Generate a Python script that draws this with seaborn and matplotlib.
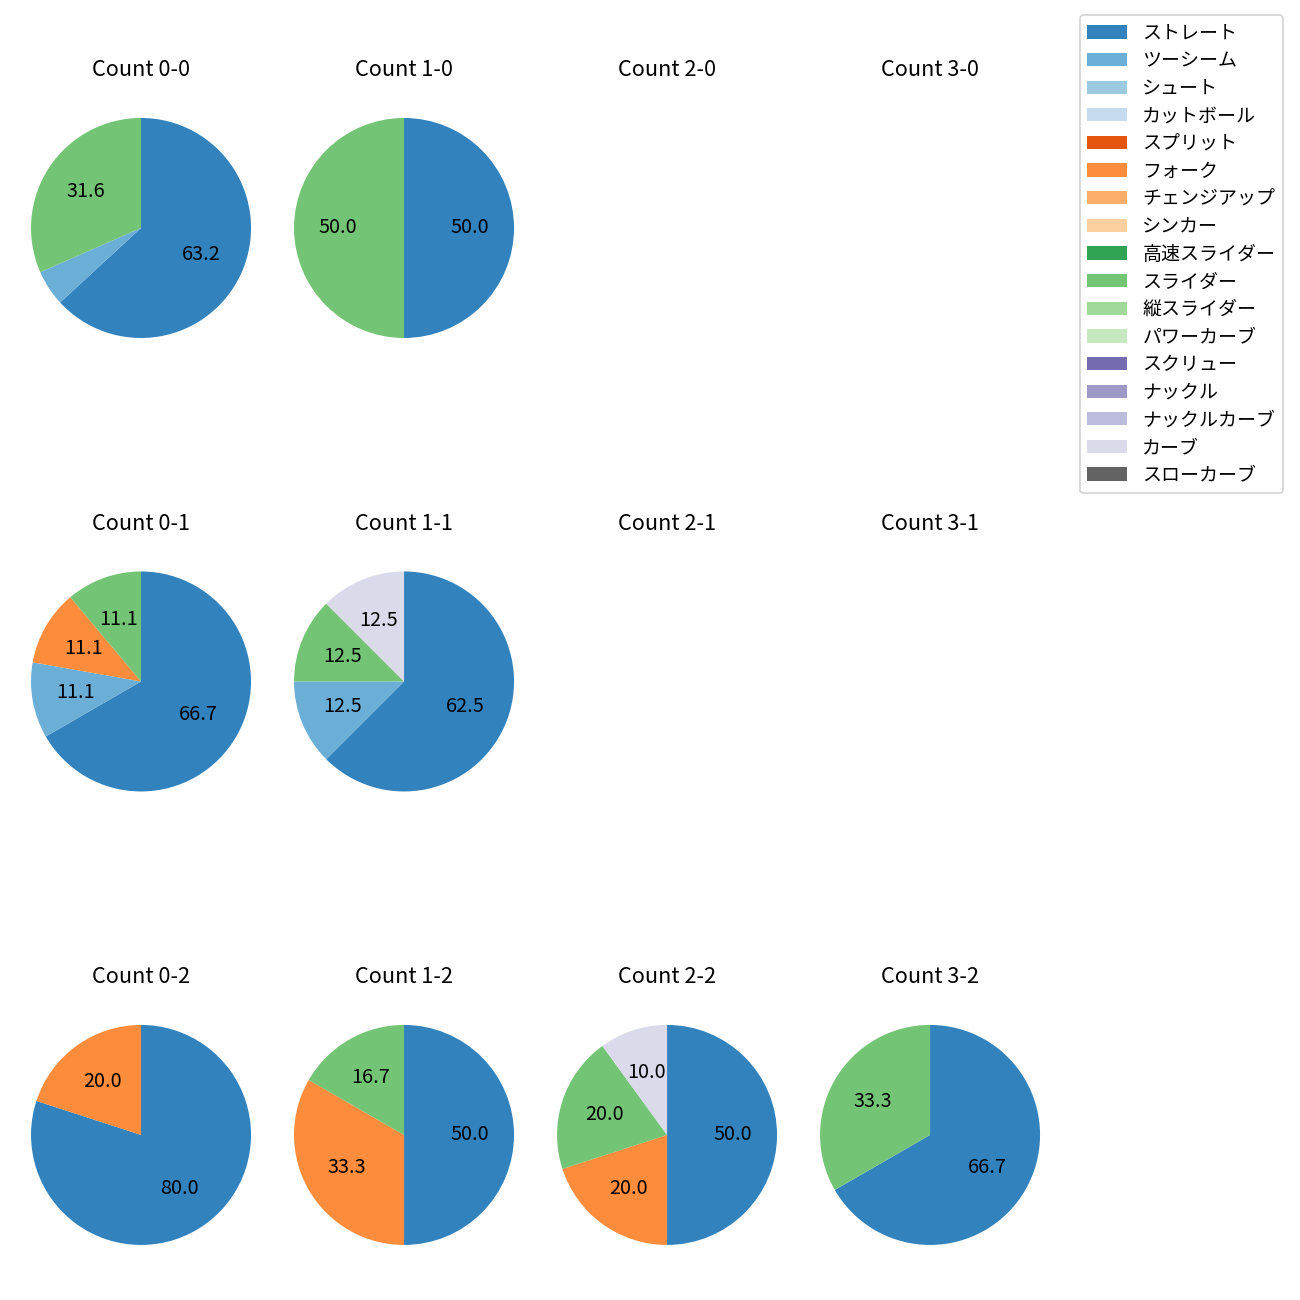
import numpy as np
import matplotlib
matplotlib.use("Agg")
from matplotlib import pyplot as plt
from matplotlib.patches import Patch
import seaborn as sns

# pitch types (legend order) and colours from tab20c
pitch_types = ["ストレート", "ツーシーム", "シュート", "カットボール", "スプリット", "フォーク",
               "チェンジアップ", "シンカー", "高速スライダー", "スライダー", "縦スライダー",
               "パワーカーブ", "スクリュー", "ナックル", "ナックルカーブ", "カーブ", "スローカーブ"]

# pitches thrown in each ball-strike count (empty = none)
count_00_types = ["ストレート", "ツーシーム", "スライダー"]
count_00_vals = [12, 1, 6]
count_10_types = ["ストレート", "スライダー"]
count_10_vals = [1, 1]
count_01_types = ["ストレート", "ツーシーム", "フォーク", "スライダー"]
count_01_vals = [6, 1, 1, 1]
count_11_types = ["ストレート", "ツーシーム", "スライダー", "カーブ"]
count_11_vals = [5, 1, 1, 1]
count_02_types = ["ストレート", "フォーク"]
count_02_vals = [4, 1]
count_12_types = ["ストレート", "フォーク", "スライダー"]
count_12_vals = [3, 2, 1]
count_22_types = ["ストレート", "フォーク", "スライダー", "カーブ"]
count_22_vals = [5, 2, 2, 1]
count_32_types = ["ストレート", "スライダー"]
count_32_vals = [2, 1]

count_data = {
    (0, 0): (count_00_types, count_00_vals),
    (1, 0): (count_10_types, count_10_vals),
    (0, 1): (count_01_types, count_01_vals),
    (1, 1): (count_11_types, count_11_vals),
    (0, 2): (count_02_types, count_02_vals),
    (1, 2): (count_12_types, count_12_vals),
    (2, 2): (count_22_types, count_22_vals),
    (3, 2): (count_32_types, count_32_vals),
}

plt.rcParams["font.family"] = ["Noto Sans CJK JP", "DejaVu Sans"]

palette = sns.color_palette("tab20c", 20)
color_map = {p: palette[i] for i, p in enumerate(pitch_types)}

fig, axes = plt.subplots(3, 4, figsize=(10, 10), dpi=130)
plt.subplots_adjust(left=0.0154, right=0.8085, top=0.9331, bottom=0.0185,
                    wspace=0.0868, hspace=0.608)

for strikes in range(3):
    for balls in range(4):
        ax = axes[strikes, balls]
        ax.set_title(f"Count {balls}-{strikes}", fontsize=12)
        if (balls, strikes) in count_data:
            types, vals = count_data[(balls, strikes)]
            ax.pie(vals, colors=[color_map[t] for t in types], startangle=90,
                   counterclock=False, textprops={"fontsize": 11},
                   autopct=lambda p: f"{p:.1f}" if p > 6 else "")
            ax.axis("equal")
        else:
            ax.axis("off")

handles = [Patch(facecolor=color_map[p], label=p) for p in pitch_types]
fig.legend(handles=handles, loc="upper right", fontsize=10.5, labelspacing=0.35,
           handlelength=2.1, bbox_to_anchor=(1283 / 1300, 1 - 15 / 1300),
           borderaxespad=0)

plt.savefig("out.png", dpi=130)
